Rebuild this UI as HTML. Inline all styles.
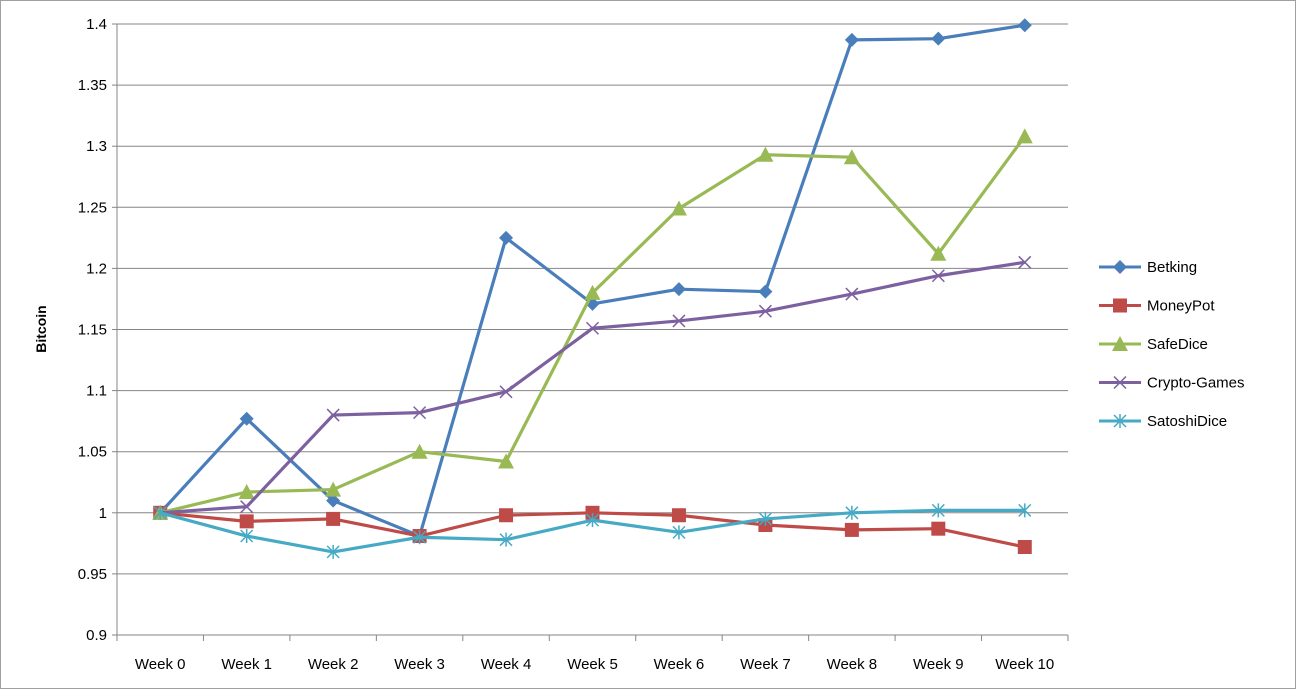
<!DOCTYPE html>
<html><head><meta charset="utf-8"><style>
body{margin:0;background:#fff;}
svg{display:block;font-family:"Liberation Sans",Arial,sans-serif;}
</style></head><body>
<svg id="chart" width="1297" height="696">
<rect x="0.5" y="0.5" width="1295" height="688" fill="#fff" stroke="#a0a0a0"/>
<g id="grid"></g>
<g id="axes"></g>
<g id="series"></g>
<g id="legend"></g>
<text x="46" y="329" font-size="14" font-weight="bold" text-anchor="middle" transform="rotate(-90 46 329)">Bitcoin</text>
</svg>
<script>
const categories=["Week 0","Week 1","Week 2","Week 3","Week 4","Week 5","Week 6","Week 7","Week 8","Week 9","Week 10"];
const yTicks=[0.9,0.95,1,1.05,1.1,1.15,1.2,1.25,1.3,1.35,1.4];
const yTickLabels=["0.9","0.95","1","1.05","1.1","1.15","1.2","1.25","1.3","1.35","1.4"];
const seriesNames=["Betking","MoneyPot","SafeDice","Crypto-Games","SatoshiDice"];
const betking=[1,1.077,1.01,0.981,1.225,1.171,1.183,1.181,1.387,1.388,1.399];
const moneyPot=[1,0.993,0.995,0.981,0.998,1.0,0.998,0.99,0.986,0.987,0.972];
const safeDice=[1,1.017,1.019,1.05,1.042,1.18,1.249,1.293,1.291,1.212,1.308];
const cryptoGames=[1,1.005,1.08,1.082,1.099,1.151,1.157,1.165,1.179,1.194,1.205];
const satoshiDice=[1,0.981,0.968,0.98,0.978,0.994,0.984,0.995,1.0,1.002,1.002];
const allSeries=[betking,moneyPot,safeDice,cryptoGames,satoshiDice];
const colors=["#4a7ebb","#be4b48","#98b954","#7d60a0","#46aac5"];
const markers=["diamond","square","triangle","x","star"];
const NS="http://www.w3.org/2000/svg";
const L=117,R=1068,T=24,B=635,ymin=0.9,ymax=1.4;
const step=(R-L)/categories.length;
const xs=i=>L+step*(i+0.5);
const ys=v=>B-(v-ymin)/(ymax-ymin)*(B-T);
function mk(t,a,p){const e=document.createElementNS(NS,t);for(const k in a)e.setAttribute(k,a[k]);p.appendChild(e);return e;}
const grid=document.getElementById('grid'),axes=document.getElementById('axes'),ser=document.getElementById('series'),leg=document.getElementById('legend');
yTicks.forEach((v,i)=>{
 if(i>0){const g=mk('line',{x1:L,x2:R,y1:ys(v),y2:ys(v),stroke:'#868686','stroke-width':1},grid);
 
 }
 const t=mk('text',{x:L-10,y:ys(v)+5,'text-anchor':'end','font-size':15},axes);t.textContent=yTickLabels[i];
 
 
 mk('line',{x1:L-5,x2:L,y1:ys(v),y2:ys(v),stroke:'#868686'},axes);
});
mk('line',{x1:L,x2:L,y1:T,y2:B,stroke:'#868686'},axes);
mk('line',{x1:L,x2:R,y1:B,y2:B,stroke:'#868686'},axes);
categories.forEach((c,i)=>{
 const x=L+step*(i+1);mk('line',{x1:x,x2:x,y1:B,y2:B+6,stroke:'#868686'},axes);
 if(i==0)mk('line',{x1:L,x2:L,y1:B,y2:B+6,stroke:'#868686'},axes);
 const t=mk('text',{x:xs(i),y:B+34,'text-anchor':'middle','font-size':15},axes);t.textContent=c;
 
 
});
function marker(type,x,y,c,p){
 let e;
 if(type=='diamond')e=mk('polygon',{points:`${x},${y-7} ${x+7},${y} ${x},${y+7} ${x-7},${y}`,fill:c},p);
 else if(type=='square')e=mk('rect',{x:x-7,y:y-7,width:14,height:14,fill:c},p);
 else if(type=='triangle')e=mk('polygon',{points:`${x},${y-8} ${x+8},${y+7} ${x-8},${y+7}`,fill:c},p);
 else if(type=='x')e=mk('path',{d:`M${x-6},${y-6}L${x+6},${y+6}M${x-6},${y+6}L${x+6},${y-6}`,stroke:c,'stroke-width':1.5},p);
 else e=mk('path',{d:`M${x-6},${y-6}L${x+6},${y+6}M${x-6},${y+6}L${x+6},${y-6}M${x},${y-7}L${x},${y+7}`,stroke:c,'stroke-width':1.5},p);
 
 
}
allSeries.forEach((s,k)=>{
 const g=mk('g',{},ser);
 
 
 const pl=mk('polyline',{points:s.map((v,i)=>xs(i)+','+ys(v)).join(' '),fill:'none',stroke:colors[k],'stroke-width':3.2,'stroke-linejoin':'round'},g);
 
 
 s.forEach((v,i)=>marker(markers[k],xs(i),ys(v),colors[k],g));
 const ly=267+k*38.5;
 const lg=mk('g',{},leg);
 
 
 mk('line',{x1:1099,x2:1141,y1:ly,y2:ly,stroke:colors[k],'stroke-width':3},lg);
 marker(markers[k],1120,ly,colors[k],lg);
 const t=mk('text',{x:1147,y:ly+5,'font-size':15},lg);t.textContent=seriesNames[k];
});
</script>
</body></html>
